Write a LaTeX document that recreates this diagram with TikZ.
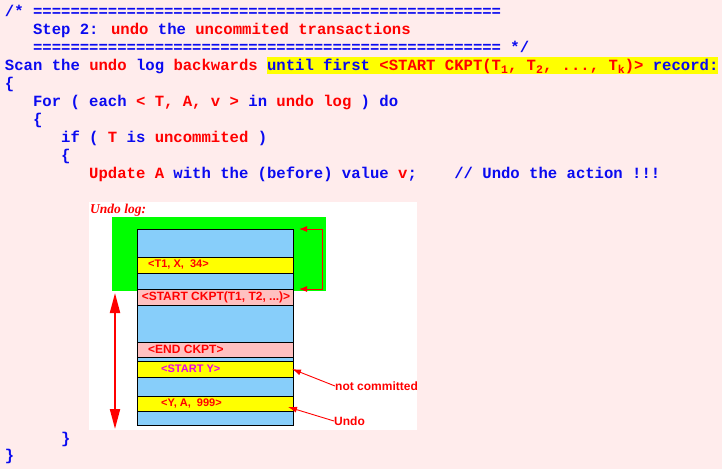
\documentclass[tikz,border=0pt]{standalone}
\usepackage{fontspec}
\setmainfont{Liberation Serif}
\setsansfont{Liberation Sans}
\newfontfamily\codefont{Liberation Mono}
\usetikzlibrary{arrows.meta}
\definecolor{bgpink}{RGB}{255,236,236}
\definecolor{cblue}{RGB}{10,10,240}
\definecolor{cred}{RGB}{255,0,0}
\definecolor{logblue}{RGB}{135,206,250}
\definecolor{logpink}{RGB}{255,192,192}
\definecolor{hiyel}{RGB}{255,255,0}
\definecolor{lgreen}{RGB}{0,255,0}
\definecolor{cmag}{RGB}{230,0,230}
\newcommand{\xB}[1]{\textcolor{cblue}{#1}}
\newcommand{\xR}[1]{\textcolor{cred}{#1}}
\newcommand{\xsub}[1]{\raisebox{-3pt}{\fontsize{11.5}{11.5}\selectfont #1}}
\tikzset{
  code/.style={anchor=base west, inner sep=0pt, outer sep=0pt, text=cblue,
    font=\codefont\bfseries\fontsize{15.6}{18}\selectfont},
  logrow/.style={draw=black, line width=0.9pt, inner sep=0pt, outer sep=0pt,
    minimum width=156pt},
  lbl/.style={anchor=west, inner sep=0pt, text=cred, font=\sffamily\bfseries\fontsize{11}{11}\selectfont},
  biglbl/.style={lbl, font=\sffamily\bfseries\fontsize{12}{12}\selectfont},
  note/.style={anchor=west, inner sep=0pt, text=cred, font=\sffamily\bfseries\fontsize{12}{12}\selectfont},
  ptr/.style={draw=cred, line width=0.9pt, -{Latex[length=9pt,width=6pt]}},
}
\begin{document}
\begin{tikzpicture}[x=1pt,y=-1pt]
\useasboundingbox (0,0) rectangle (722,469);
\fill[bgpink] (0,0) rectangle (722,469);

% ---- pseudo code ----
\node[code] (l1) at (5,16) {/*~==================================================};
\node[code] (l2) at (33.08,34.1) {\xB{Step 2:} \xR{undo} \xB{the} \xR{uncommited transactions}};
\node[code] (l3) at (33.08,52.2) {==================================================~*/};
\node[code] (l4) at (5,70.3) {\xB{Scan the} \xR{undo} \xB{log} \xR{backwards}};
\node[code, fill=hiyel, text height=13.6pt, text depth=3.7pt] (l4b) at (267.08,70.3)
  {\xB{until first} \xR{<START CKPT(T\xsub{1}, T\xsub{2}, ..., T\xsub{k})>} \xB{record:}};
\node[code] (l5) at (5,88.4) {\{};
\node[code] (l6) at (33.08,106.5) {\xB{For ( each} \xR{< T, A, v >} \xB{in} \xR{undo log} \xB{) do}};
\node[code] (l7) at (33.08,124.6) {\{};
\node[code] (l8) at (61.16,142.7) {\xB{if (} \xR{T} \xB{is} \xR{uncommited} \xB{)}};
\node[code] (l9) at (61.16,160.8) {\{};
\node[code] (l10) at (89.24,178.9) {\xR{Update A} \xB{with the (before) value} \xR{v}\xB{;~~~~// Undo the action !!!}};
\node[code] (l11) at (61.16,443) {\}};
\node[code] (l12) at (5,460) {\}};

% ---- undo log figure ----
\fill[white] (89,202) rectangle (417,430);
\node[anchor=base west, inner sep=0pt, text=cred, font=\bfseries\itshape\fontsize{13.5}{13.5}\selectfont] (ulog) at (90,213) {Undo log:};
\fill[lgreen] (112,217) rectangle (326,291);

\node[logrow, fill=logblue, minimum height=28pt] (r1) at (215,243) {};
\node[logrow, fill=hiyel, minimum height=16pt] (r2) at (215,265) {};
\node[logrow, fill=logblue, minimum height=16pt] (r3) at (215,281) {};
\node[logrow, fill=logpink, minimum height=16pt] (r4) at (215,297) {};
\node[logrow, fill=logblue, minimum height=37pt] (r5) at (215,323.5) {};
\node[logrow, fill=logpink, minimum height=15pt] (r6) at (215,349.5) {};
\node[logrow, fill=logblue, minimum height=4pt] (r7) at (215,359) {};
\node[logrow, fill=hiyel, minimum height=16pt] (r8) at (215,369) {};
\node[logrow, fill=logblue, minimum height=19pt] (r9) at (215,386.5) {};
\node[logrow, fill=hiyel, minimum height=15pt] (r10) at (215,403.5) {};
\node[logrow, fill=logblue, minimum height=14pt] (r11) at (215,418) {};

\node[lbl] (t2) at (148,265) {<T1, X, \ 34>};
\node[biglbl, anchor=center] (t4) at (216,297) {<START CKPT(T1, T2, ...)>};
\node[biglbl] (t6) at (148,349.5) {<END CKPT>};
\node[lbl, text=cmag] (t8) at (161,369) {<START Y>};
\node[lbl] (t10) at (161,403.5) {<Y, A, \ 999>};

% bracket on the right of the checkpoint span
\coordinate (bt) at (299,229);
\coordinate (bb) at (299,289);
\draw[cred, line width=1pt, {Latex[length=8pt,width=6pt]}-{Latex[length=8pt,width=6pt]}]
  (bt) -- (322,229) -- (322,289) -- (bb);

% big scan arrow
\coordinate (at) at (115,293);
\coordinate (ab) at (115,429);
\draw[cred, line width=2pt, {Triangle[length=20pt,width=10pt]}-{Triangle[length=20pt,width=10pt]}] (at) -- (ab);

% notes
\node[note] (nc) at (335,386) {not committed};
\node[note] (ud) at (334,421) {Undo};
\coordinate (tipnc) at (292,369);
\coordinate (tipud) at (288,407);
\draw[ptr] (nc.west) -- (tipnc);
\draw[ptr] (ud.west) -- (tipud);
\end{tikzpicture}
\end{document}
